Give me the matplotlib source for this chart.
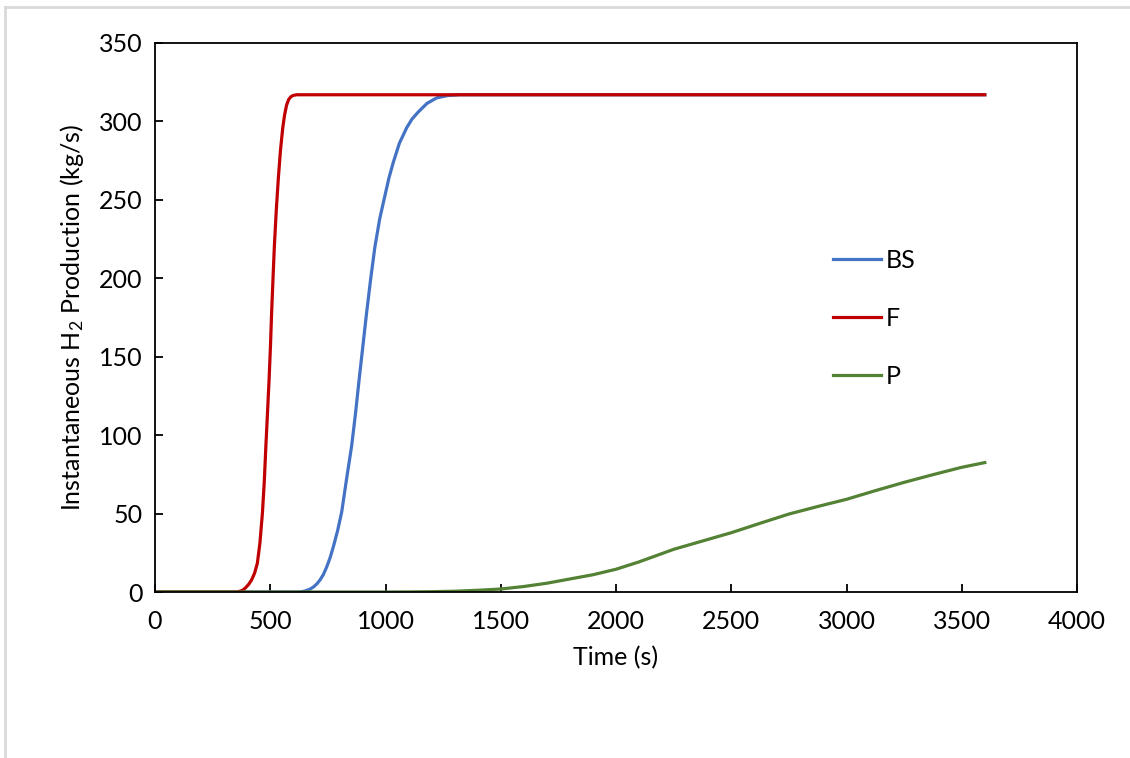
import matplotlib
matplotlib.use("Agg")
import matplotlib.pyplot as plt
from matplotlib.lines import Line2D

# values
time_bs = [0, 620, 640, 658, 675, 690, 703, 716, 730, 745, 760, 774, 792, 810,
           830, 853, 870, 886, 902, 918, 936, 954, 975, 998, 1015, 1034, 1060,
           1092, 1115, 1142, 1180, 1222, 1270, 1323, 3600]
bs = [0, 0, 0.3, 1, 2, 3.5, 5.3, 7.7, 11, 16, 22, 29, 39, 51,
      71, 93, 114, 136, 157, 178, 200, 220, 238, 253, 264, 274, 286,
      296, 301.5, 306, 311.5, 315, 316.5, 317, 317]

time_f = [0, 340, 355, 369, 382, 395, 407, 419, 432, 444, 455, 466, 474, 481,
          488, 495, 501, 506, 512, 518, 526, 535, 544, 554, 562, 571, 580, 590,
          600, 615, 3600]
f = [0, 0, 0.1, 0.5, 1.3, 3, 5, 7.7, 12, 18.3, 31, 50.3, 70, 93,
     114, 135.6, 157, 178.3, 200, 221, 243, 263.6, 281, 295.6, 304, 310.5, 314, 315.8,
     316.6, 317, 317]

time_p = [0, 1000, 1100, 1200, 1300, 1400, 1500, 1600, 1700, 1800, 1900, 2000,
          2100, 2250, 2375, 2500, 2625, 2750, 2875, 3000, 3125, 3250, 3375,
          3500, 3600]
p = [0, 0, 0.05, 0.2, 0.5, 1.1, 1.9, 3.5, 5.6, 8.3, 11, 14.5,
     19.2, 27.2, 32.5, 37.8, 43.8, 49.7, 54.5, 59.1, 64.6, 69.9, 74.8,
     79.5, 82.5]

plt.rcParams['font.family'] = ['Lato', 'DejaVu Sans']
plt.rcParams['mathtext.fontset'] = 'custom'
plt.rcParams['mathtext.rm'] = 'Lato'
plt.rcParams['mathtext.it'] = 'Lato'

fig = plt.figure(figsize=(11.3, 7.58), dpi=100)
ax = fig.add_axes([155/1130, 1-592/758, (1077-155)/1130, (592-43)/758])

ax.plot(time_bs, bs, color='#4472C4', lw=2.3, label='BS')
ax.plot(time_f, f, color='#C00000', lw=2.3, label='F')
ax.plot(time_p, p, color='#548235', lw=2.3, label='P')

ax.set_xlim(0, 4000)
ax.set_ylim(0, 350)
ax.set_xticks(range(0, 4001, 500))
ax.set_yticks(range(0, 351, 50))
ax.tick_params(direction='in', length=6, width=1.3, labelsize=18, color='black')
ax.tick_params(axis='x', pad=13)
ax.tick_params(axis='y', pad=9)
for s in ax.spines.values():
    s.set_linewidth(1.3)
    s.set_color('black')

ax.set_xlabel('Time (s)', fontsize=18, labelpad=9)
ax.set_ylabel('Instantaneous H$_2$ Production (kg/s)', fontsize=18, labelpad=9)

ax.legend(loc='upper left', bbox_to_anchor=((823-155)/922, (592-239)/549),
          frameon=False, fontsize=18, handlelength=1.9, handletextpad=0.2,
          labelspacing=1.4, borderaxespad=0)

# light grey frame at the top and left edge of the picture
fig.add_artist(Line2D([5/1130, 1], [1-7/758, 1-7/758], color='#d9d9d9', lw=2,
                      transform=fig.transFigure))
fig.add_artist(Line2D([5/1130, 5/1130], [0, 1-7/758], color='#d9d9d9', lw=2,
                      transform=fig.transFigure))

fig.savefig('out.png', dpi=100)
